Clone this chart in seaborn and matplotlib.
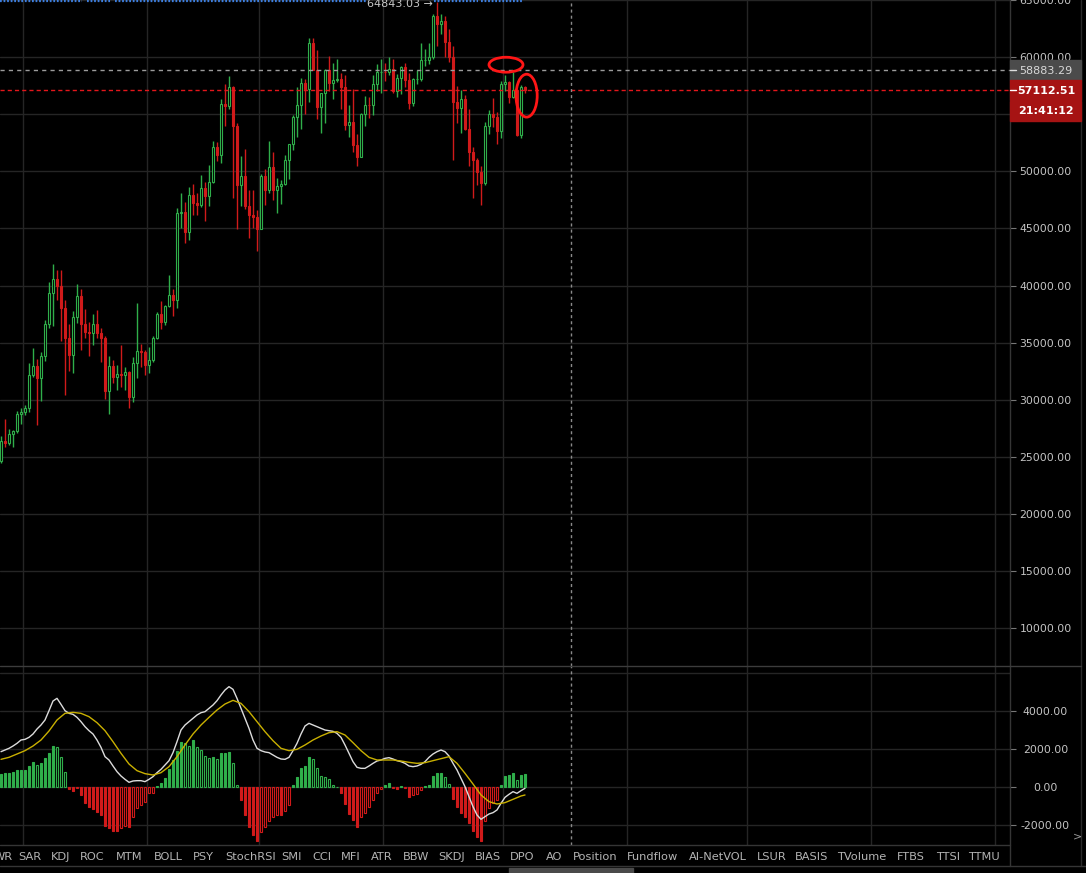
import matplotlib
matplotlib.use("Agg")
import numpy as np
import pandas as pd
import matplotlib.pyplot as plt
import matplotlib.dates as mdates
from matplotlib.patches import Rectangle, Ellipse
import seaborn as sns

# ---------------- data (daily candles 2020-12-26 .. 2021-05-06) ----------------
opens = [24640, 26390, 26210, 27030, 27260, 28780, 28930, 29310, 32140, 32950,
         31900, 33830, 36670, 39370, 40540, 39950, 38070, 35360, 33900, 37260,
         39090, 36610, 35940, 35800, 36610, 35800, 35410, 30770, 32930, 32000,
         32230, 32140, 32400, 30240, 33250, 34230, 34170, 33020, 33460, 35440,
         37540, 36810, 38210, 39150, 38710, 46310, 46400, 44700, 47910, 47240,
         47030, 48500, 47860, 49080, 52090, 51410, 55860, 55740, 57350, 53980,
         48790, 49610, 46980, 46160, 46010, 44990, 49570, 48350, 50340, 48330,
         48760, 48880, 50980, 52380, 54770, 55770, 57700, 57170, 61200, 58860,
         55620, 56850, 58860, 57720, 58000, 58100, 57350, 54080, 54340, 52300,
         51300, 55030, 55820, 55780, 57630, 58730, 58740, 58720, 58970, 57060,
         58200, 59130, 57990, 56000, 58090, 58120, 59770, 59790, 59990, 63590,
         62950, 63150, 61350, 60000, 56080, 55590, 56380, 53670, 51700, 50980,
         49950, 48990, 53960, 55010, 54770, 53520, 57630, 57840, 56520, 57110,
         53170, 57350]
highs = [26850, 28350, 27400, 27370, 28990, 29280, 29575, 33250, 34550, 33600,
         34200, 36960, 40320, 41870, 41330, 41330, 38700, 36610, 37750, 40110,
         39700, 37900, 36810, 37490, 37840, 36300, 35600, 33800, 33450, 33080,
         34830, 32880, 32530, 33750, 38460, 34920, 34350, 34600, 35550, 37650,
         38650, 38300, 40950, 39700, 46750, 48110, 47330, 48640, 48930, 48060,
         49660, 49100, 50540, 52640, 52530, 56300, 57610, 58340, 57490, 54200,
         51330, 52000, 48410, 48410, 46600, 49810, 50190, 52640, 51700, 49400,
         49200, 51450, 52400, 54900, 57400, 58150, 58050, 61700, 61700, 60600,
         56900, 58990, 60090, 59450, 59880, 58600, 58400, 55800, 57200, 53230,
         55100, 56600, 56550, 58400, 59370, 59800, 59470, 60000, 59800, 58500,
         59260, 59470, 58650, 58150, 58900, 61200, 60700, 61200, 63770, 64843,
         63800, 63570, 62500, 61000, 57500, 57100, 56700, 55500, 52100, 51200,
         50500, 54300, 55400, 56400, 55200, 57900, 58400, 57950, 58710, 57200,
         57600, 57500]
lows = [24460, 25860, 26000, 25860, 27100, 27850, 28700, 28950, 32000, 27760,
        29900, 33400, 36300, 36460, 38700, 35180, 30400, 32530, 32350, 36700,
        34340, 35360, 33800, 34770, 35360, 33300, 30040, 28780, 31420, 30890,
        31120, 30840, 29230, 29820, 31940, 32880, 32140, 32300, 33300, 35300,
        36170, 36500, 38150, 37340, 37990, 45000, 43730, 43970, 46160, 46220,
        46900, 45660, 46980, 48940, 50890, 50750, 53980, 55450, 47680, 44930,
        46980, 46690, 44120, 45000, 43000, 44930, 47040, 48100, 47470, 46330,
        47100, 48800, 49300, 51850, 53000, 53700, 55050, 56100, 59000, 54570,
        53340, 54200, 57000, 56300, 57850, 55500, 53650, 53000, 51700, 50480,
        51300, 54000, 54700, 54900, 57000, 56870, 57930, 58450, 56900, 56500,
        56800, 57350, 55470, 55700, 57670, 57900, 59200, 59370, 59850, 61000,
        62000, 60000, 59600, 50980, 54200, 53400, 53600, 50450, 47650, 48800,
        47030, 48800, 53300, 53900, 52400, 52900, 57000, 56000, 56400, 53100,
        52900, 56900]
closes = [26390, 26210, 27030, 27260, 28780, 28930, 29310, 32140, 32950, 31900,
          33830, 36670, 39370, 40540, 39950, 38070, 35360, 33900, 37260, 39090,
          36610, 35940, 35800, 36610, 35800, 35410, 30770, 32930, 32000, 32230,
          32140, 32400, 30240, 33250, 34230, 34170, 33020, 33460, 35440, 37540,
          36810, 38210, 39150, 38710, 46310, 46400, 44700, 47910, 47240, 47030,
          48500, 47860, 49080, 52090, 51410, 55860, 55740, 57350, 53980, 48790,
          49610, 46980, 46160, 46010, 44990, 49570, 48350, 50340, 48330, 48760,
          48880, 50980, 52380, 54770, 55770, 57700, 57170, 61200, 58860, 55620,
          56850, 58860, 57720, 58000, 58100, 57350, 54080, 54340, 52300, 51300,
          55030, 55820, 55780, 57630, 58730, 58740, 58720, 58970, 57060, 58200,
          59130, 57990, 56000, 58090, 58120, 59770, 59790, 59990, 63590, 62950,
          63150, 61350, 60000, 56080, 55590, 56380, 53670, 51700, 50980, 49950,
          48990, 53960, 55010, 54770, 53520, 57630, 57840, 56520, 57110, 53170,
          57350, 57112.51]

macd_hist = [684, 719, 754, 789, 895, 895, 895, 1105, 1298, 1158, 1245, 1508, 1807, 2157, 2087, 1561, 789,
             -123, -193, -60, -421, -824, -1035, -1175, -1298, -1473, -2052, -2175, -2298, -2298, -2175,
             -2052, -2087, -1596, -1123, -947, -772, -333, -298,
             53, 193, 456, 965, 1421, 1912, 2385, 2333, 2157, 2473, 2087, 1947, 1649, 1508, 1561, 1456,
             1807, 1807, 1824, 1245, 88,
             -684, -1473, -2087, -2526, -2824, -2350, -2087, -1772, -1561, -1491, -1491, -1245, -965,
             88, 544, 982, 1123, 1596, 1456, 1017, 579, 544, 403, 105, 18,
             -333, -895, -1421, -1737, -2122, -1561, -1386, -1035, -684, -333, -88,
             88, 193, -70, -88, 53, -70, -509, -421, -368, -158, 53, 123, 579, 719, 754, 509, 158,
             -649, -1035, -1386, -1596, -1912, -2298, -2614, -2824, -1772, -1123, -860, -684,
             88, 579, 631, 754, 368, 631, 684]
dif_line = [1859, 1947, 2035, 2157, 2298, 2473, 2508, 2613, 2789, 3052, 3262, 3525, 4017, 4525, 4666,
            4350, 4017, 3876, 3824, 3666, 3438, 3175, 2964, 2789, 2473, 2087, 1596, 1421, 1105, 807,
            579, 403, 246, 316, 333, 333, 281, 403, 544, 754, 930, 1158, 1386, 1807, 2385, 2999,
            3262, 3438, 3613, 3789, 3911, 3964, 4139, 4315, 4543, 4841, 5104, 5280, 5139, 4666, 4139,
            3613, 3087, 2473, 2035, 1912, 1842, 1807, 1684, 1561, 1473, 1456, 1561, 1912, 2298, 2789,
            3210, 3350, 3262, 3175, 3087, 2999, 2964, 2929, 2824, 2613, 2210, 1772, 1333, 1035, 982,
            982, 1105, 1245, 1368, 1421, 1508, 1544, 1473, 1386, 1333, 1245, 1105, 1070, 1105, 1193,
            1333, 1561, 1736, 1859, 1947, 1859, 1631, 1245, 895, 456, 18, -509, -1035, -1473, -1701,
            -1561, -1421, -1351, -1210, -859, -544, -386, -246, -333, -193, -70]
dea_idx = list(range(0, 131, 2)) + [131]
dea_line = [1456, 1561, 1736, 1912, 2157, 2473, 2947, 3526, 3876, 3929, 3876, 3701, 3385, 2964, 2385,
            1772, 1210, 859, 702, 631, 754, 1070, 1596, 2210, 2789, 3262, 3666, 4052, 4367, 4560, 4403,
            3964, 3438, 2912, 2438, 2035, 1912, 1982, 2210, 2473, 2684, 2859, 2912, 2736, 2333, 1912,
            1561, 1421, 1421, 1421, 1368, 1298, 1245, 1280, 1386, 1491, 1596, 1245, 719, 158, -421,
            -772, -895, -824, -649, -474, -421]

price_ticks = [10000, 15000, 20000, 25000, 30000, 35000, 40000, 45000, 50000, 55000, 60000, 65000]
macd_ticks = [-2000, 0, 2000, 4000]
last_price = 57112.51
ref_price = 58883.29
peak_price = 64843.03
countdown = "21:41:12"
crosshair_day = "2021-05-18"

indicators = ["WR", "SAR", "KDJ", "ROC", "MTM", "BOLL", "PSY", "StochRSI", "SMI", "CCI", "MFI", "ATR",
              "BBW", "SKDJ", "BIAS", "DPO", "AO", "Position", "Fundflow", "AI-NetVOL", "LSUR", "BASIS",
              "TVolume", "FTBS", "TTSI", "TTMU"]
indicator_px = [3, 30, 61, 92, 129, 168, 203, 251, 292, 322, 351, 382, 416, 452, 488, 522, 554, 595,
                653, 718, 772, 812, 862, 911, 948, 984]

# ---------------- style ----------------
sns.set_theme(style="dark", rc={
    "figure.facecolor": "black", "axes.facecolor": "black", "savefig.facecolor": "black",
    "axes.edgecolor": "#333333", "grid.color": "#252525", "text.color": "#c4c4c4",
    "xtick.color": "#c4c4c4", "ytick.color": "#c4c4c4",
})
plt.rcParams["font.family"] = ["DejaVu Sans", "Noto Sans CJK SC"]

GREEN = "#2fae4a"
RED = "#d01a1a"
W, H = 1086, 873

fig = plt.figure(figsize=(W / 100, H / 100), dpi=100)


def px_axes(x0, y0, x1, y1):
    return fig.add_axes([x0 / W, 1 - y1 / H, (x1 - x0) / W, (y1 - y0) / H])


ax = px_axes(0, 0, 1010, 666)
axm = px_axes(0, 666, 1010, 845)

dates = pd.date_range("2020-12-26", periods=len(closes), freq="D")
x = mdates.date2num(dates) + 0.5
o = np.array(opens, float)
h = np.array(highs, float)
l = np.array(lows, float)
c = np.array(closes, float)
x_left = mdates.date2num(dates[0]) + 0.25
x_right = x_left + 1010 / 4

# ---------------- candles ----------------
up = c >= o
cols = np.where(up, GREEN, RED)
face = np.where(up, "black", RED)
ax.vlines(x, l, h, colors=cols, lw=1, zorder=3)
ax.bar(x, np.abs(c - o), bottom=np.minimum(o, c), width=0.5, color=face,
       edgecolor=cols, linewidth=0.8, zorder=4)

ax.set_xlim(x_left, x_right)
ax.set_ylim(6672, 65009)
ax.xaxis.set_major_locator(mdates.MonthLocator())
ax.set_yticks(price_ticks)
ax.set_yticklabels([f"{v:.2f}" for v in price_ticks])
ax.grid(True, color="#252525", lw=1)
ax.tick_params(axis="x", length=0, labelbottom=False)
ax.tick_params(axis="y", left=False, labelleft=False, right=True, labelright=True,
               length=4.5, width=0.8, color="#777777", pad=21, labelsize=7.8, labelcolor="#c4c4c4")
for t in ax.yaxis.get_major_ticks():
    t.label2.set_horizontalalignment("center")
for s in ax.spines.values():
    s.set_visible(False)

# price lines
ax.axhline(ref_price, color="#9c9c9c", lw=1, dashes=(3, 3), zorder=5)
ax.axhline(last_price, color="#e3161b", lw=1, dashes=(3, 2.2), zorder=5)
xc = mdates.date2num(pd.Timestamp(crosshair_day))
ax.axvline(xc, color="#8a8a8a", lw=1, dashes=(2.2, 2.2), zorder=5)

# top marker line and peak label
peak_i = int(np.argmax(h))
top_y = 64920
for a, b in [(0, 82), (87, 110), (115, 366), (434, 478), (481, 522)]:
    ax.hlines(top_y, x_left + a / 4, x_left + b / 4, colors="#3d7fe0", lw=1.6,
              linestyles=(0, (0.8, 0.8)), zorder=6, clip_on=True)
ax.text(x[peak_i] - 1.0, 64396, f"{peak_price:.2f} →", ha="right", va="baseline",
        color="#c8c8c8", fontsize=8, clip_on=True, zorder=7)

# highlight ellipses
ax.add_patch(Ellipse((x[126] + 0.25, 59340), 8.5, 1310, fill=False, edgecolor="#ff1616", lw=2, zorder=8))
ax.add_patch(Ellipse((x[131] + 0.4, 56630), 5.3, 3760, fill=False, edgecolor="#ff1616", lw=2, zorder=8))

# ---------------- MACD panel ----------------
hist = np.array(macd_hist, float)
prev = np.concatenate([[0.0], hist[:-1]])
growing = (np.abs(hist) >= np.abs(prev)) | (np.sign(hist) != np.sign(prev))
hcol = np.where(hist >= 0, GREEN, RED)
hface = np.where(growing, hcol, "black")
axm.bar(x, hist, width=0.55, color=hface, edgecolor=hcol, linewidth=0.8, zorder=3)
sns.lineplot(x=x, y=dif_line, ax=axm, color="#dcdcdc", lw=1, estimator=None, sort=False, zorder=4)
sns.lineplot(x=x[dea_idx], y=dea_line, ax=axm, color="#c9b000", lw=1, estimator=None, sort=False, zorder=4)
axm.axvline(xc, color="#8a8a8a", lw=1, dashes=(2.2, 2.2), zorder=5)
axm.axhline(6000, color="#252525", lw=1, zorder=0)

axm.set_xlim(x_left, x_right)
axm.set_ylim(-3053, 6368)
axm.xaxis.set_major_locator(mdates.MonthLocator())
axm.set_yticks(macd_ticks)
axm.set_yticklabels([f"{v:.2f}" for v in macd_ticks])
axm.grid(True, color="#252525", lw=1)
axm.set_xlabel("")
axm.set_ylabel("")
axm.tick_params(axis="x", length=0, labelbottom=False)
axm.tick_params(axis="y", left=False, labelleft=False, right=True, labelright=True,
                length=4.5, width=0.8, color="#777777", pad=21, labelsize=7.8, labelcolor="#c4c4c4")
for t in axm.yaxis.get_major_ticks():
    t.label2.set_horizontalalignment("center")
for s in axm.spines.values():
    s.set_visible(False)

# ---------------- overlay chrome (pixel coordinates) ----------------
ov = fig.add_axes([0, 0, 1, 1], zorder=20)
ov.set_xlim(0, W)
ov.set_ylim(H, 0)
ov.axis("off")
ov.patch.set_alpha(0)

line_c = "#353535"
ov.plot([1010, 1010], [0, 866], color=line_c, lw=1)
ov.plot([1081, 1081], [0, 866], color="#2a2a2a", lw=1)
ov.plot([0, 1081], [666, 666], color="#3c3c3c", lw=1)
ov.plot([0, 1010], [845, 845], color=line_c, lw=1)
ov.plot([0, W], [866, 866], color=line_c, lw=1)

# right-side price tags
ov.add_patch(Rectangle((1010, 60), 71, 20, color="#4b4b4b", zorder=3))
ov.add_patch(Rectangle((1010, 80), 71, 20, color="#a61313", zorder=3))
ov.add_patch(Rectangle((1010, 101), 71, 20, color="#a61313", zorder=3))
ov.plot([1010, 1016], [70, 70], color="#dddddd", lw=1, zorder=4)
ov.plot([1010, 1016], [90, 90], color="#ffffff", lw=1, zorder=4)
ov.text(1046, 70.5, f"{ref_price:.2f}", ha="center", va="center", color="#d8d8d8", fontsize=8, zorder=5)
ov.text(1046, 90.5, f"{last_price:.2f}", ha="center", va="center", color="white", fontsize=8,
        fontweight="bold", zorder=5)
ov.text(1046, 111.5, countdown, ha="center", va="center", color="white", fontsize=8,
        fontweight="bold", zorder=5)

# indicator tab bar
for name, px in zip(indicators, indicator_px):
    ov.text(px, 856.5, name, ha="center", va="center", color="#b4b4b4", fontsize=8.2)

# time axis row (mostly cut off at the bottom edge)
ov.add_patch(Rectangle((509, 868), 124, 10, color="#4a4a4a"))
ov.text(571, 880, f"{crosshair_day} 08:00:00", ha="center", va="center", color="white", fontsize=8)
ov.text(24, 880, "2021", ha="center", va="center", color="#b4b4b4", fontsize=8)
ov.text(990, 880, "对数", ha="center", va="center", color="#b4b4b4", fontsize=9)
ov.text(1028, 880, "%", ha="center", va="center", color="#b4b4b4", fontsize=9)
ov.text(1060, 880, "自动", ha="center", va="center", color="#2f7de1", fontsize=9)
ov.text(1077, 836, ">", ha="center", va="center", color="#9a9a9a", fontsize=8)

fig.savefig("out.png", dpi=100, facecolor="black")
